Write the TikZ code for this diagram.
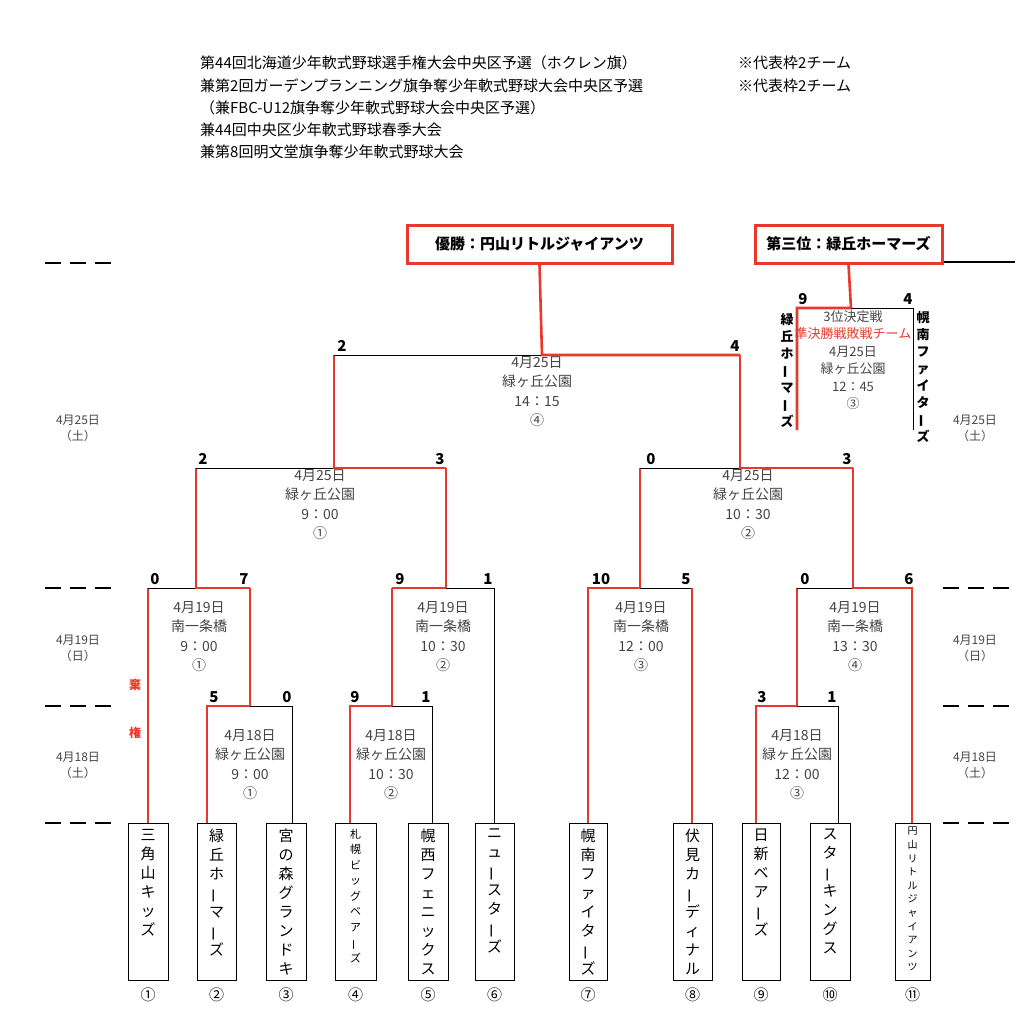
\documentclass[tikz,border=0pt]{standalone}
\usepackage{fontspec}
\usepackage{graphicx}
\setmainfont{Noto Sans CJK JP}
\definecolor{rd}{HTML}{E8382B}
\definecolor{gt}{HTML}{444444}
\newcommand{\vb}{\rotatebox[origin=c]{90}{ー}}
\newcommand{\fs}[2]{\fontsize{#1}{#2}\selectfont}
\tikzset{
 rl/.style={draw=rd,line width=2.6pt},
 bl/.style={draw=black,line width=0.8pt},
 sc/.style={font=\fs{15}{17}\bfseries,anchor=south,inner sep=1pt},
 info/.style={text=gt,font=\fs{14}{19.5},align=center,anchor=north,inner sep=0pt},
 tbox/.style={draw,line width=0.8pt,minimum height=157pt,anchor=north},
 tname/.style={font=\fs{15}{19},align=center,anchor=north,inner sep=0pt},
 cn/.style={font=\fs{15}{17}},
 dt/.style={text=gt,font=\fs{12}{16},align=center},
 ttl/.style={font=\fs{15}{17},anchor=west,inner sep=0pt},
 dsh/.style={line width=2pt,dash pattern=on 16pt off 9pt}
}
\begin{document}
\begin{tikzpicture}[x=1pt,y=-1pt]
\useasboundingbox (0,0) rectangle (1028,1034);
% titles
\node[ttl] (t1) at (200,63) {第44回北海道少年軟式野球選手権大会中央区予選（ホクレン旗）};
\node[ttl] (t2) at (200,86) {兼第2回ガーデンプランニング旗争奪少年軟式野球大会中央区予選};
\node[ttl] (t3) at (200,108) {（兼FBC-U12旗争奪少年軟式野球大会中央区予選）};
\node[ttl] (t4) at (200,130) {兼44回中央区少年軟式野球春季大会};
\node[ttl] (t5) at (200,152) {兼第8回明文堂旗争奪少年軟式野球大会};
\node[ttl] (r1) at (738,63) {※代表枠2チーム};
\node[ttl] (r2) at (738,86) {※代表枠2チーム};
% dashes
\foreach \y in {263,588,706,823}{\draw[dsh] (45,\y) -- (112,\y);}
\foreach \y in {588,706,823}{\draw[dsh] (943,\y) -- (1015,\y);}
\draw[line width=1.6pt] (942,262) -- (1015,262);
% dates
\foreach \x in {78,975}{
 \node[dt] at (\x,428) {4月25日\\（土）};
 \node[dt] at (\x,648) {4月19日\\（日）};
 \node[dt] at (\x,765) {4月18日\\（土）};}
% top boxes
\node[draw=rd,line width=3pt,minimum width=265pt,minimum height=38pt,font=\fs{15}{17}\bfseries] (win) at (539.5,244) {優勝：円山リトルジャイアンツ};
\node[draw=rd,line width=3pt,minimum width=187pt,minimum height=38pt,font=\fs{15}{17}\bfseries] (third) at (848.5,244) {第三位：緑丘ホーマーズ};
% team boxes
\node[tbox,minimum width=40pt] (b1) at (148,823) {};
\node[tbox,minimum width=39pt] (b2) at (216.5,823) {};
\node[tbox,minimum width=40pt] (b3) at (286,823) {};
\node[tbox,minimum width=41pt] (b4) at (355.5,823) {};
\node[tbox,minimum width=40pt] (b5) at (428,823) {};
\node[tbox,minimum width=39pt] (b6) at (494.5,823) {};
\node[tbox,minimum width=38pt] (b7) at (588,823) {};
\node[tbox,minimum width=39pt] (b8) at (692.5,823) {};
\node[tbox,minimum width=38pt] (b9) at (761,823) {};
\node[tbox,minimum width=40pt] (b10) at (830,823) {};
\node[tbox,minimum width=35pt] (b11) at (912.5,823) {};
\node[tname] at (148,829) {三\\角\\山\\キ\\ッ\\ズ};
\node[tname] at (216.5,829) {緑\\丘\\ホ\\\vb\\マ\\\vb\\ズ};
\node[tname] at (286,829) {宮\\の\\森\\グ\\ラ\\ン\\ド\\キ};
\node[tname,font=\fs{11}{15.5}] at (355.5,829) {札\\幌\\ビ\\ッ\\グ\\ベ\\ア\\\vb\\ズ};
\node[tname] at (428,829) {幌\\西\\フ\\ェ\\ニ\\ッ\\ク\\ス};
\node[tname] at (494.5,829) {ニ\\ュ\\\vb\\ス\\タ\\\vb\\ズ};
\node[tname] at (588,829) {幌\\南\\フ\\ァ\\イ\\タ\\\vb\\ズ};
\node[tname] at (692.5,829) {伏\\見\\カ\\\vb\\デ\\ィ\\ナ\\ル};
\node[tname] at (761,829) {日\\新\\ベ\\ア\\\vb\\ズ};
\node[tname] at (830,829) {ス\\タ\\\vb\\キ\\ン\\グ\\ス};
\node[tname,font=\fs{10}{13.6}] at (912.5,827) {円\\山\\リ\\ト\\ル\\ジ\\ャ\\イ\\ア\\ン\\ツ};
\foreach \i/\x/\c in {1/148/①,2/216.5/②,3/286/③,4/355.5/④,5/428/⑤,6/494.5/⑥,7/588/⑦,8/692.5/⑧,9/761/⑨,10/830/⑩,11/912.5/⑪}
 \node[cn] (c\i) at (\x,995) {\c};
% coordinates
\coordinate (p1) at (148,823); \coordinate (p2) at (207,823); \coordinate (p3) at (292,823);
\coordinate (p4) at (350,823); \coordinate (p5) at (432,823); \coordinate (p6) at (494,823);
\coordinate (p7) at (588,823); \coordinate (p8) at (692,823); \coordinate (p9) at (756,823);
\coordinate (p10) at (838,823); \coordinate (p11) at (912,823);
% R1 A
\draw[rl] (p2) -- (207,706) -- (250,706) -- (250,588);
\draw[bl] (250,706) -- (292,706) -- (p3);
% R1 B
\draw[rl] (p4) -- (350,706) -- (392,706) -- (392,588);
\draw[bl] (392,706) -- (432,706) -- (p5);
% R1 C
\draw[rl] (p9) -- (756,706) -- (797,706) -- (797,588);
\draw[bl] (797,706) -- (838,706) -- (p10);
% 4/19 matches
\draw[rl] (p1) -- (148,588);
\draw[bl] (148,588) -- (196,588);
\draw[rl] (250,588) -- (196,588) -- (196,468);
\draw[rl] (392,588) -- (446,588) -- (446,468);
\draw[bl] (446,588) -- (494,588);
\draw[bl] (p6) -- (494,588);
\draw[rl] (p7) -- (588,588) -- (640,588) -- (640,468);
\draw[bl] (640,588) -- (692,588);
\draw[rl] (p8) -- (692,588);
\draw[bl] (797,588) -- (853,588);
\draw[rl] (p11) -- (912,588) -- (853,588) -- (853,468);
% semis
\draw[bl] (196,468) -- (334,468);
\draw[rl] (446,468) -- (334,468) -- (334,355);
\draw[bl] (640,468) -- (740,468);
\draw[rl] (853,468) -- (740,468) -- (740,355);
% final
\draw[bl] (334,355) -- (542,355);
\draw[rl] (740,355) -- (542,355) -- (win.south);
% third place
\draw[rl] (797,430) -- (797,308) -- (851,308) -- (third.south);
\draw[bl] (851,308) -- (913,308) -- (913,430);
% scores
\foreach \x/\y/\s in {342/353/2,735/353/4,203/466/2,440/466/3,651/466/0,847/466/3,
 155/586/0,244/586/7,400/586/9,488/586/1,601/586/10,686/586/5,805/586/0,909/586/6,
 214/704/5,287/704/0,355/704/9,426/704/1,762/704/3,832/704/1,803/306/9,908/306/4}
 \node[sc] at (\x,\y) {\s};
% info
\node[info] (i0) at (537,356) {4月25日\\緑ヶ丘公園\\14：15\\④};
\node[info] (i1) at (320,469) {4月25日\\緑ヶ丘公園\\9：00\\①};
\node[info] (i2) at (748,469) {4月25日\\緑ヶ丘公園\\10：30\\②};
\node[info] (i3) at (199,601) {4月19日\\南一条橋\\9：00\\①};
\node[info] (i4) at (443,601) {4月19日\\南一条橋\\10：30\\②};
\node[info] (i5) at (641,601) {4月19日\\南一条橋\\12：00\\③};
\node[info] (i6) at (855,601) {4月19日\\南一条橋\\13：30\\④};
\node[info] (i7) at (250,729) {4月18日\\緑ヶ丘公園\\9：00\\①};
\node[info] (i8) at (391,729) {4月18日\\緑ヶ丘公園\\10：30\\②};
\node[info] (i9) at (797,729) {4月18日\\緑ヶ丘公園\\12：00\\③};
\node[info,font=\fs{13}{17.5}] (i10) at (853,310) {3位決定戦\\\textcolor{rd}{準決勝戦敗戦チーム}\\4月25日\\緑ヶ丘公園\\12：45\\③};
% forfeit
\node[text=rd,font=\fs{12}{14}\bfseries] (k1) at (135,685) {棄};
\node[text=rd,font=\fs{12}{14}\bfseries] (k2) at (135,733) {権};
% side names
\node[font=\fs{13}{17}\bfseries,align=center,anchor=north,inner sep=0pt] (s1) at (787,313) {緑\\丘\\ホ\\\vb\\マ\\\vb\\ズ};
\node[font=\fs{13}{17}\bfseries,align=center,anchor=north,inner sep=0pt] (s2) at (923,311) {幌\\南\\フ\\ァ\\イ\\タ\\\vb\\ズ};
\end{tikzpicture}
\end{document}
